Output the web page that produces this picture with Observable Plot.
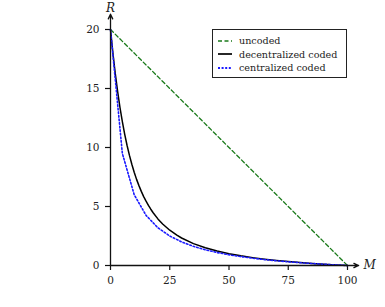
<!DOCTYPE html>
<html><head><meta charset="utf-8">
<script src="https://cdn.jsdelivr.net/npm/d3@7"></script>
<script src="https://cdn.jsdelivr.net/npm/@observablehq/plot@0.6"></script>
<style>
body{margin:0;background:#fff;}
#wrap{position:relative;width:385px;height:307px;font-family:"DejaVu Serif",serif;}
#legend{position:absolute;left:212px;top:29px;width:133px;height:47px;border:1px solid #222;background:#fff;font-size:9.6px;color:#222;}
.row{position:absolute;left:5px;height:13px;line-height:13px;}
.row svg{position:absolute;left:0;top:3.5px;}
.row span{position:absolute;left:21px;top:0;white-space:nowrap;}
</style>
</head><body>
<div id="wrap"><div id="legend"></div></div>
<script>
const seriesNames = ["uncoded", "decentralized coded", "centralized coded"];
const uncodedM = [0, 100];
const uncodedR = [20, 0];
const decM = [0,1,2,3,4,5,6,7,8,9,10,11,12,13,14,15,16,17,18,20,22,25,28,30,35,40,45,50,55,60,65,70,75,80,85,90,95,100];
const decR = [20,18.03,16.29,14.75,13.39,12.19,11.12,10.17,9.33,8.58,7.91,7.30,6.77,6.28,5.84,5.45,5.09,4.77,4.47,3.95,3.52,2.99,2.57,2.33,1.857,1.50,1.222,1.0,0.818,0.667,0.538,0.429,0.333,0.25,0.176,0.111,0.053,0];
const cenM = [0,5,10,15,20,25,30,35,40,45,50,55,60,65,70,75,80,85,90,95,100];
const cenR = [20,9.5,6,4.25,3.2,2.5,2,1.625,1.333,1.1,0.909,0.75,0.615,0.5,0.4,0.3125,0.235,0.167,0.105,0.05,0];
const xTicks = [0,25,50,75,100];
const yTicks = [0,5,10,15,20];
const axisExtent = {x: 104.7, y: 21.3};

const colors = ["#1a7a1a", "#000000", "#1a1aff"];
const dashes = ["4,2.6", null, "1.6,2"];
const widths = [1.3, 1.5, 1.6];

const toPts = (M, R) => M.map((m, i) => ({M: m, R: R[i]}));
const data = [toPts(uncodedM, uncodedR), toPts(decM, decR), toPts(cenM, cenR)];

const axes = [
  {x1: 0, y1: 0, x2: axisExtent.x, y2: 0},
  {x1: 0, y1: 0, x2: 0, y2: axisExtent.y}
];

const chart = Plot.plot({
  width: 385, height: 307,
  marginLeft: 110, marginRight: 38, marginTop: 29, marginBottom: 42,
  style: {fontFamily: '"DejaVu Serif",serif', fontSize: "10.5px", color: "#222", overflow: "visible"},
  x: {domain: [0, 100]},
  y: {domain: [0, 20]},
  marks: [
    Plot.axisX({ticks: xTicks, tickSize: 5, tickPadding: 6, label: null, stroke: "#111", strokeWidth: 1.2}),
    Plot.axisY({ticks: yTicks, tickSize: 5, tickPadding: 6, label: null, stroke: "#111", strokeWidth: 1.2}),
    ...data.map((d, i) => Plot.line(d, {x: "M", y: "R", stroke: colors[i], strokeWidth: widths[i], strokeDasharray: dashes[i], clip: false})),
    Plot.arrow(axes, {x1: "x1", y1: "y1", x2: "x2", y2: "y2", stroke: "#111", strokeWidth: 1.3, headLength: 6, headAngle: 50, bend: false}),
    Plot.text([{t: "M"}], {x: () => axisExtent.x, y: () => 0, text: "t", dx: 11, fontStyle: "italic", fontSize: 12, textAnchor: "middle"}),
    Plot.text([{t: "R"}], {x: () => 0, y: () => axisExtent.y, text: "t", dy: -6, fontStyle: "italic", fontSize: 12, textAnchor: "middle"})
  ]
});
document.getElementById("wrap").prepend(chart);

const legend = document.getElementById("legend");
seriesNames.forEach((name, i) => {
  const row = document.createElement("div");
  row.className = "row";
  row.style.top = (4 + i * 13.5) + "px";
  row.innerHTML = `<svg width="14" height="6"><line x1="0" y1="3" x2="14" y2="3" stroke="${colors[i]}" stroke-width="${widths[i]+0.2}" ${dashes[i] ? `stroke-dasharray="${i===0?'4,2.5':'2,1.6'}"` : ""}/></svg><span>${name}</span>`;
  legend.appendChild(row);
});
</script>
</body></html>
